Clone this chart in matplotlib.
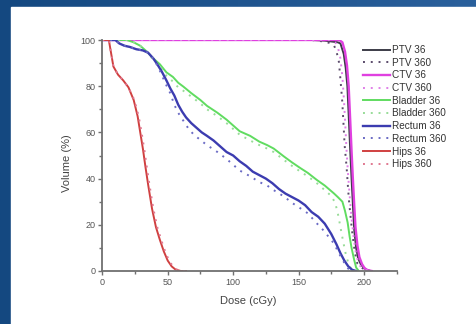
import numpy as np
import matplotlib.pyplot as plt
from matplotlib.patches import Rectangle
from matplotlib.colors import LinearSegmentedColormap

plt.rcParams['font.family'] = ['Liberation Sans', 'DejaVu Sans']

# dose (cGy) / volume (%)
ptv36_dose = [0, 160, 170, 176, 180, 182, 184.5, 186, 187.3, 188.5, 189.5, 190.5, 191.5, 192.5, 194, 195.5, 197.5, 199.5, 202, 205]
ptv36_vol = [100, 100, 99.7, 99.3, 99, 98.5, 94, 88, 80, 65, 52, 40, 29, 18, 10, 5.5, 3, 1.5, 0.5, 0]

ptv360_dose = [0, 160, 170, 175, 177, 179, 180.8, 182, 183.4, 184.5, 185.2, 186.7, 187.8, 188.5, 190, 191.1, 193, 194.9, 198.8, 202, 205]
ptv360_vol = [100, 100, 99.3, 98.5, 97.8, 95, 90.6, 83, 73.3, 62, 54.5, 45, 36, 30.7, 22, 16.3, 8, 3.3, 1.2, 0.3, 0]

ctv36_dose = [0, 181, 183.5, 185.5, 187, 188.3, 189.5, 190.5, 191.5, 192.5, 193.5, 195, 196.5, 198.5, 200.5, 203, 206]
ctv36_vol = [100, 100, 99, 95, 89, 80, 65, 52, 40, 29, 19, 11, 6, 3, 1.2, 0.3, 0]

ctv360_dose = [0, 175, 178, 180, 182, 183.5, 184.8, 185.8, 186.7, 187.8, 189, 190.5, 192, 194, 196.5, 200, 204]
ctv360_vol = [100, 100, 99, 97, 92, 84, 73, 62, 52, 42, 33, 23, 15, 7, 2.5, 0.7, 0]

bladder36_dose = [0, 18.7, 24, 29, 34, 39, 44, 49, 54, 58, 62, 68, 75, 80, 88, 95, 100, 105, 113, 120, 126, 131, 139, 145,
                  151.5, 157, 164, 170, 177, 180, 183.5, 185.5, 187.5, 189, 190.5, 192.5, 194, 196]
bladder36_vol = [100, 100, 99, 97.5, 95, 92, 89.5, 86, 84, 81.5, 79.8, 77, 74, 71.5, 68.5, 65.5, 63, 60.5, 58.5, 56, 54.5, 53,
                 49.5, 47, 44.5, 42.5, 39.4, 37, 33.6, 32, 30, 26, 21, 15, 10, 4.8, 1.5, 0]

bladder360_dose = [0, 18.7, 24, 29, 34, 39, 44, 49, 54, 58, 62, 68, 75, 80, 88, 95, 100, 105, 113, 120, 126, 131, 139, 145,
                   151.5, 157, 164, 170, 175, 178, 180, 182, 184, 186, 188, 190, 192]
bladder360_vol = [100, 100, 99, 97.5, 95, 91.5, 88.5, 84.5, 82, 79.5, 78, 75.5, 72.5, 70, 67, 64, 61.5, 59, 56.5, 54.5, 53,
                  51.5, 48, 45.5, 43, 41, 38, 35, 32.5, 29.5, 25, 19, 13, 7.5, 3.5, 1, 0]

rectum36_dose = [0, 10, 13, 17, 21, 26, 31, 35, 39, 42, 45.5, 49, 52, 55, 58, 61, 64, 68, 72, 76, 80, 85, 90, 95, 100, 105,
                 110, 115, 120, 125, 130, 135, 140, 145, 150, 155, 160, 165, 170, 175, 179, 182, 185, 188, 191, 194]
rectum36_vol = [100, 100, 98.5, 97.5, 97, 96, 95.5, 94.5, 92, 89.5, 86.3, 82.5, 79, 76, 72, 69, 66.5, 64, 62, 60, 58.5, 56.5,
                54, 51.5, 50, 47.5, 45.5, 43, 41.5, 40, 38, 35.5, 33.5, 32, 30.5, 28.5, 25.5, 23.5, 20.5, 16, 11.5, 7.7,
                4.5, 2, 0.5, 0]

rectum360_dose = [0, 10, 13, 17, 21, 26, 31, 35, 39, 42, 45, 48, 52, 55, 58, 62, 66, 70, 75, 80, 88, 95, 100, 105, 113, 120,
                  126, 131, 139, 145, 151.5, 157, 164, 170, 174, 177, 181, 185, 188, 191]
rectum360_vol = [100, 100, 98.5, 97.5, 97, 96, 95.5, 94.5, 92, 89, 85.5, 81.5, 76.9, 72, 68.5, 65, 61.5, 59, 56.7, 54.5, 51.5,
                 48.5, 46, 43.5, 41, 38.5, 37, 35, 32.2, 29.5, 27.1, 25, 20.6, 17, 14, 12, 7.5, 3.5, 1, 0]

hips36_dose = [0, 5, 6.5, 8.5, 12, 16, 20, 24, 27, 29, 31, 33, 35, 38, 41, 44, 47, 50, 53, 56, 60, 64]
hips36_vol = [100, 100, 95, 88.5, 85, 82.5, 79.5, 74, 67, 60, 53, 45, 37.5, 27, 19, 13.5, 8.5, 4.5, 2, 0.6, 0, 0]

hips360_dose = [0, 5, 6.5, 8.5, 12, 16, 20, 24.5, 27.8, 30, 32, 34, 36, 39, 42, 45, 48, 51, 54, 57, 61, 64]
hips360_vol = [100, 100, 95, 88.5, 85, 82.5, 79.5, 74, 67, 60, 53, 45, 37.5, 27, 19, 13.5, 8.5, 4.5, 2, 0.6, 0, 0]

fig = plt.figure(figsize=(4.76, 3.24), dpi=100)

# blue gradient background + white slide panel
bg = fig.add_axes([0, 0, 1, 1], zorder=-10)
grad = np.linspace(0, 1, 256).reshape(1, -1)
cmap = LinearSegmentedColormap.from_list('bg', ['#144880', '#2a609c'])
bg.imshow(grad, aspect='auto', cmap=cmap, extent=[0, 1, 0, 1])
bg.add_patch(Rectangle((11 / 476, 0), 1, 1 - 7 / 324, color='white'))
bg.set_xlim(0, 1)
bg.set_ylim(0, 1)
bg.axis('off')

ax = fig.add_axes([102.3 / 476, 1 - 271 / 324, 294.4 / 476, 231 / 324])
ax.patch.set_alpha(0)

dot = (0, (1, 3))
ax.plot(ptv36_dose, ptv36_vol, color='#3c3c48', lw=1.4, label='PTV 36')
ax.plot(ptv360_dose, ptv360_vol, color='#5a4a6a', lw=1.4, ls=dot, label='PTV 360')
ax.plot(ctv36_dose, ctv36_vol, color='#e040e0', lw=1.7, label='CTV 36')
ax.plot(ctv360_dose, ctv360_vol, color='#e080e8', lw=1.4, ls=dot, label='CTV 360')
ax.plot(bladder36_dose, bladder36_vol, color='#60dc60', lw=1.4, label='Bladder 36')
ax.plot(bladder360_dose, bladder360_vol, color='#98dc98', lw=1.4, ls=dot, label='Bladder 360')
ax.plot(rectum36_dose, rectum36_vol, color='#3c3cb0', lw=1.7, label='Rectum 36')
ax.plot(rectum360_dose, rectum360_vol, color='#6a6ac4', lw=1.4, ls=dot, label='Rectum 360')
ax.plot(hips36_dose, hips36_vol, color='#d04040', lw=1.4, label='Hips 36')
ax.plot(hips360_dose, hips360_vol, color='#e07890', lw=1.4, ls=dot, label='Hips 360')

ax.set_xlim(0, 225)
ax.set_ylim(0, 100)
ax.set_xticks([0, 50, 100, 150, 200])
ax.set_xticks([25, 75, 125, 175, 225], minor=True)
ax.set_yticks([0, 20, 40, 60, 80, 100])
ax.set_yticks([10, 30, 50, 70, 90], minor=True)
ax.spines['top'].set_visible(False)
ax.spines['right'].set_visible(False)
for s in ['left', 'bottom']:
    ax.spines[s].set_color('#707070')
    ax.spines[s].set_linewidth(1.3)
ax.tick_params(which='major', direction='out', length=3, width=1, color='#707070',
               labelsize=6.5, labelcolor='#555555', pad=2)
ax.tick_params(which='minor', direction='out', length=2, width=1, color='#707070')

ax.set_xlabel('Dose (cGy)', fontsize=8, color='#444444')
ax.xaxis.set_label_coords(0.495, -0.108)
ax.set_ylabel('Volume (%)', fontsize=8, color='#444444')
ax.yaxis.set_label_coords(-0.103, 0.4675)

fig.legend(loc='upper left', bbox_to_anchor=(363 / 476, 1 - 45 / 324), frameon=False,
           fontsize=7.2, handlelength=2.7, handletextpad=0.2, labelspacing=0.27,
           borderpad=0, borderaxespad=0, labelcolor='#333333')

fig.savefig('out.png', dpi=100)
